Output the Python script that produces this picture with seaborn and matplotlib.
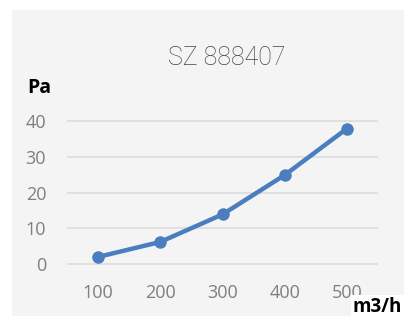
import matplotlib
matplotlib.use('Agg')
import matplotlib.pyplot as plt
import seaborn as sns
import pandas as pd
from matplotlib.patches import Rectangle

# values
flow = ['100', '200', '300', '400', '500']
pressure = [2.0, 6.2, 13.9, 24.9, 37.9]
y_ticks = [0, 10, 20, 30, 40]

data = pd.DataFrame({'flow': flow, 'pressure': pressure})

sns.set_theme(style='white')
plt.rcParams['font.family'] = ['Open Sans', 'DejaVu Sans']

W, H = 404, 316
fig = plt.figure(figsize=(W / 100, H / 100), dpi=100, facecolor='white')

# light gray panel behind the chart
fig.patches.append(Rectangle((12 / W, 0), 1, 1 - 10 / H, transform=fig.transFigure,
                             facecolor='#f4f4f4', edgecolor='none', zorder=-5))

ax = fig.add_axes([67 / W, 0.153, (378 - 67) / W, 0.475])
ax.set_facecolor('none')
ax.set_zorder(2)

sns.lineplot(data=data, x='flow', y='pressure', ax=ax, color='#4a7ebf',
             linewidth=3.2, marker='o', markersize=9, markeredgewidth=0,
             sort=False)

ax.set_xlim(-0.5, 4.5)
ax.set_ylim(-1, 41)
ax.set_yticks(y_ticks)
ax.grid(axis='y', color='#dcdcdc', linewidth=1.2)
ax.grid(axis='x', visible=False)
for s in ax.spines.values():
    s.set_visible(False)
ax.tick_params(axis='both', length=0, labelsize=13, labelcolor='#7f7f7f')
ax.tick_params(axis='y', pad=15)
ax.tick_params(axis='x', pad=12)
ax.set_xlabel('')
ax.set_ylabel('')

fig.text(227 / W, 1 - 58 / H, 'SZ 888407', ha='center', va='center',
         fontsize=18, color='#454545', family=['Roboto', 'DejaVu Sans'],
         fontweight='light', zorder=3)
fig.text(27 / W, 1 - 88 / H, 'Pa', ha='left', va='center', fontsize=14,
         fontweight='bold', color='black', zorder=3)
fig.text(353 / W, 1 - 307 / H, 'm3/h', ha='left', va='center', fontsize=13.5,
         fontweight='bold', color='black', zorder=3,
         bbox=dict(facecolor='white', edgecolor='none', pad=1.5))

fig.savefig('out.png', dpi=100, facecolor='white')
